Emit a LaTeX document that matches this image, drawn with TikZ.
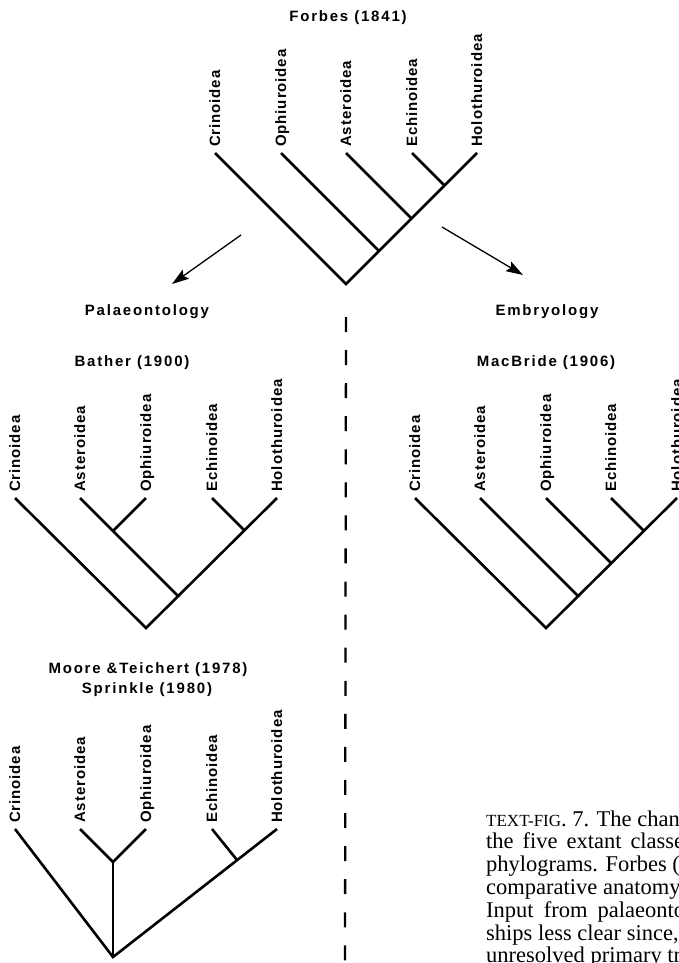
\documentclass[tikz,border=0pt]{standalone}
\usepackage{fontspec}
\setmainfont{Liberation Serif}
\newfontfamily\labfont[LetterSpace=6]{Liberation Sans}
\newfontfamily\headfont[LetterSpace=12]{Liberation Sans}
\usetikzlibrary{arrows.meta,calc}

\tikzset{
  branch/.style={line width=2.6pt, line join=miter, line cap=butt},
  taxon/.style={rotate=90, anchor=base west, inner sep=0pt,
    font={\labfont\bfseries\fontsize{15}{15}\selectfont}},
  heading/.style={anchor=base, inner sep=0pt,
    font={\headfont\bfseries\fontsize{15}{15}\selectfont}},
  capline/.style={anchor=base west, inner sep=0pt,
    font={\fontsize{22.5}{22.5}\selectfont}},
  flow/.style={line width=1.3pt, -{Stealth[length=17pt,width=11pt,inset=3pt]}},
  divider/.style={line width=2.3pt, dash pattern=on 15pt off 18.07pt}
}

\begin{document}
\begin{tikzpicture}[x=1pt,y=-1pt]
\useasboundingbox (0,0) rectangle (679,963);
\clip (0,0) rectangle (679,963);

% ---------- Forbes (1841) ----------
\node[heading] (forbes) at (348,22) {Forbes (1841)};
\coordinate (fC) at (215,153);
\coordinate (fO) at (281,153);
\coordinate (fA) at (346,153);
\coordinate (fE) at (412,153);
\coordinate (fH) at (477,153);
\coordinate (fR) at (346,284);
\coordinate (fEH) at (444.5,185.5);
\coordinate (fAj) at (411.5,218.5);
\coordinate (fOj) at (379,251);
\draw[branch] (fC) -- (fR) -- (fH);
\draw[branch] (fE) -- (fEH);
\draw[branch] (fA) -- (fAj);
\draw[branch] (fO) -- (fOj);
\node[taxon] (fCl) at ($(fC)+(5,-6)$) {Crinoidea};
\node[taxon] (fOl) at ($(fO)+(5,-6)$) {Ophiuroidea};
\node[taxon] (fAl) at ($(fA)+(5,-6)$) {Asteroidea};
\node[taxon] (fEl) at ($(fE)+(5,-6)$) {Echinoidea};
\node[taxon] (fHl) at ($(fH)+(5,-6)$) {Holothuroidea};

% ---------- branches of study ----------
\node[heading] (pal) at (147,315) {Palaeontology};
\node[heading] (emb) at (547,315) {Embryology};
\coordinate (la) at (241,235);
\coordinate (lb) at (172,284);
\coordinate (ra) at (442,227);
\coordinate (rb) at (523,275);
\draw[flow] (la) -- (lb);
\draw[flow] (ra) -- (rb);

\coordinate (dtop) at (346,317);
\coordinate (dbot) at (345,963);
\draw[divider] (dtop) -- (dbot);

% ---------- Bather (1900) ----------
\node[heading] (bather) at (132,366) {Bather (1900)};
\coordinate (bC) at (15,498);
\coordinate (bA) at (80,498);
\coordinate (bO) at (146,498);
\coordinate (bE) at (212,498);
\coordinate (bH) at (277,498);
\coordinate (bR) at (146,628);
\coordinate (bAO) at (113,531);
\coordinate (bEH) at (244,530);
\coordinate (bAj) at (178,596);
\draw[branch] (bC) -- (bR) -- (bH);
\draw[branch] (bA) -- (bAj);
\draw[branch] (bO) -- (bAO);
\draw[branch] (bE) -- (bEH);
\node[taxon] (bCl) at ($(bC)+(5,-6)$) {Crinoidea};
\node[taxon] (bAl) at ($(bA)+(5,-6)$) {Asteroidea};
\node[taxon] (bOl) at ($(bO)+(5,-6)$) {Ophiuroidea};
\node[taxon] (bEl) at ($(bE)+(5,-6)$) {Echinoidea};
\node[taxon] (bHl) at ($(bH)+(5,-6)$) {Holothuroidea};

% ---------- MacBride (1906) ----------
\node[heading] (macbride) at (546,366) {MacBride (1906)};
\coordinate (mC) at (415,498);
\coordinate (mA) at (480,498);
\coordinate (mO) at (546,498);
\coordinate (mE) at (611,498);
\coordinate (mH) at (677,498);
\coordinate (mR) at (546,628);
\coordinate (mEH) at (643.5,530.5);
\coordinate (mOj) at (611,563);
\coordinate (mAj) at (578,596);
\draw[branch] (mC) -- (mR) -- (mH);
\draw[branch] (mE) -- (mEH);
\draw[branch] (mO) -- (mOj);
\draw[branch] (mA) -- (mAj);
\node[taxon] (mCl) at ($(mC)+(5,-6)$) {Crinoidea};
\node[taxon] (mAl) at ($(mA)+(5,-6)$) {Asteroidea};
\node[taxon] (mOl) at ($(mO)+(5,-6)$) {Ophiuroidea};
\node[taxon] (mEl) at ($(mE)+(5,-6)$) {Echinoidea};
\node[taxon] (mHl) at ($(mH)+(5,-6)$) {Holothuroidea};

% ---------- Moore & Teichert (1978), Sprinkle (1980) ----------
\node[heading] (moore) at (148,673) {Moore \&Teichert (1978)};
\node[heading] (sprinkle) at (147,693) {Sprinkle (1980)};
\coordinate (sC) at (15,829);
\coordinate (sA) at (80,829);
\coordinate (sO) at (146,829);
\coordinate (sE) at (212,829);
\coordinate (sH) at (277,829);
\coordinate (sR) at (113,957);
\coordinate (sAO) at (113,862);
\coordinate (sEH) at (237,860);
\draw[branch] (sC) -- (sR) -- (sH);
\draw[branch] (sA) -- (sAO) -- (sO);
\draw[branch] (sAO) -- (sR);
\draw[branch] (sE) -- (sEH);
\node[taxon] (sCl) at ($(sC)+(5,-6)$) {Crinoidea};
\node[taxon] (sAl) at ($(sA)+(5,-6)$) {Asteroidea};
\node[taxon] (sOl) at ($(sO)+(5,-6)$) {Ophiuroidea};
\node[taxon] (sEl) at ($(sE)+(5,-6)$) {Echinoidea};
\node[taxon] (sHl) at ($(sH)+(5,-6)$) {Holothuroidea};

% ---------- caption ----------
\node[capline] (cap1) at (486,826.0) {{\fontsize{17}{17}\selectfont TEXT-FIG}. 7. The chan};
\node[capline] (cap2) at (486,848.8) {\makebox[198pt][s]{the five extant classe}};
\node[capline] (cap3) at (486,871.6) {phylograms. Forbes (};
\node[capline] (cap4) at (486,894.4) {comparative anatomy};
\node[capline] (cap5) at (486,917.2) {\makebox[199pt][s]{Input from palaeonto}};
\node[capline] (cap6) at (486,940.0) {ships less clear since,};
\node[capline] (cap7) at (486,962.8) {unresolved primary tr};
\end{tikzpicture}
\end{document}
